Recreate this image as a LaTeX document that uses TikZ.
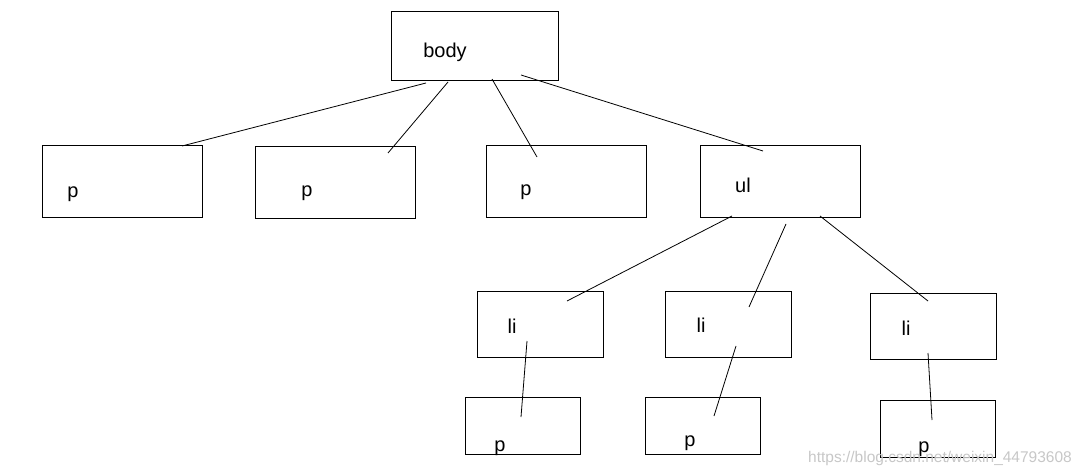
\documentclass[tikz,border=0pt]{standalone}
\usepackage{fontspec}
\setmainfont{Liberation Sans}
\begin{document}
\begin{tikzpicture}[x=1pt,y=-1pt,
  box/.style={draw,line width=1.2pt,inner sep=0pt,anchor=north west},
  bigbox/.style={box,minimum width=160pt,minimum height=72pt},
  libox/.style={box,minimum width=126pt,minimum height=66pt},
  smallbox/.style={box,minimum width=115pt,minimum height=57pt},
  lbl/.style={font=\fontsize{20}{22}\selectfont,inner sep=0pt},
  link/.style={line width=0.8pt}]
\useasboundingbox (0,0) rectangle (1084,476);
% boxes
\node[box,minimum width=167pt,minimum height=69pt] (body) at (391,11) {};
\node[bigbox] (pA) at (42,145) {};
\node[bigbox] (pB) at (255,146) {};
\node[bigbox] (pC) at (486,145) {};
\node[bigbox] (ul) at (700,145) {};
\node[libox] (liA) at (477,291) {};
\node[libox] (liB) at (665,291) {};
\node[libox] (liC) at (870,293) {};
\node[smallbox] (pD) at (465,397) {};
\node[smallbox] (pE) at (645,397) {};
\node[smallbox] (pF) at (880,400) {};
% labels
\node[lbl] (tbody) at (445,52) {body};
\node[lbl] (tpA) at (73,194) {p};
\node[lbl] (tpB) at (307,193) {p};
\node[lbl] (tpC) at (526,192) {p};
\node[lbl] (tul) at (743,185) {ul};
\node[lbl] (tliA) at (512,326) {li};
\node[lbl] (tliB) at (701,325) {li};
\node[lbl] (tliC) at (906,328) {li};
\node[lbl] (tpD) at (500,448) {p};
\node[lbl] (tpE) at (690,443) {p};
\node[lbl] (tpF) at (924,449) {p};
% connector end points
\coordinate (c1a) at (426,83);  \coordinate (c1b) at (182,146);
\coordinate (c2a) at (448,82);  \coordinate (c2b) at (388,153);
\coordinate (c3a) at (492,79);  \coordinate (c3b) at (537,157);
\coordinate (c4a) at (521,75);  \coordinate (c4b) at (763,151);
\coordinate (c5a) at (732,216); \coordinate (c5b) at (567,301);
\coordinate (c6a) at (786,224); \coordinate (c6b) at (749,307);
\coordinate (c7a) at (820,216); \coordinate (c7b) at (928,301);
\coordinate (c8a) at (527,341); \coordinate (c8b) at (521,417);
\coordinate (c9a) at (736,346); \coordinate (c9b) at (714,416);
\coordinate (c10a) at (928,353); \coordinate (c10b) at (932,420);
\draw[link] (c1a) -- (c1b);
\draw[link] (c2a) -- (c2b);
\draw[link] (c3a) -- (c3b);
\draw[link] (c4a) -- (c4b);
\draw[link] (c5a) -- (c5b);
\draw[link] (c6a) -- (c6b);
\draw[link] (c7a) -- (c7b);
\draw[link] (c8a) -- (c8b);
\draw[link] (c9a) -- (c9b);
\draw[link] (c10a) -- (c10b);
% watermark
\node[font=\fontsize{15.5}{17}\selectfont,text=black!22,inner sep=0pt] (wm) at (940,458) {https://blog.csdn.net/weixin\_44793608};
\end{tikzpicture}
\end{document}
